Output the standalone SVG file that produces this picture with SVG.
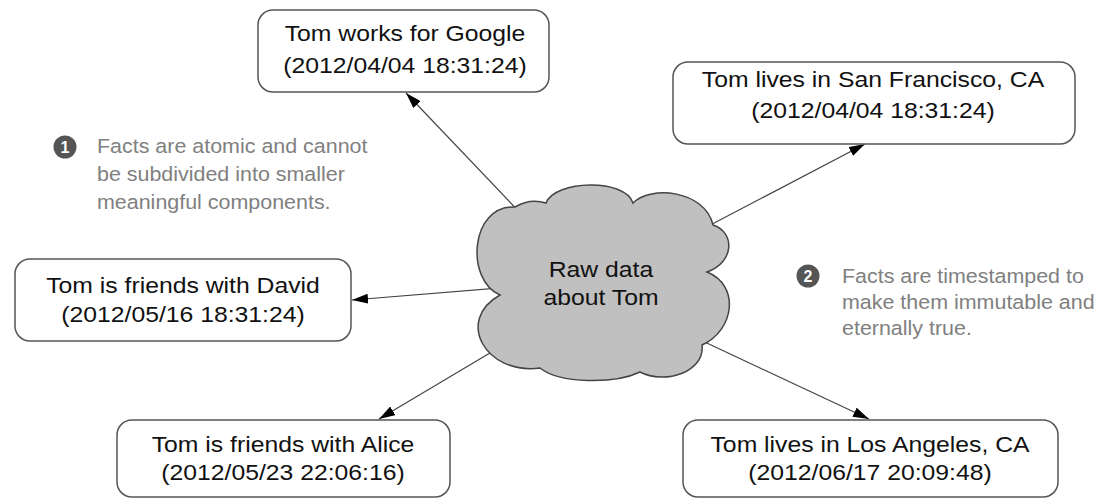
<svg xmlns="http://www.w3.org/2000/svg" width="1100" height="499" viewBox="0 0 1100 499">
<defs>
<style>
.box{fill:#fff;stroke:#555;stroke-width:1.5}
.lbl{font-family:"Liberation Sans",Arial,sans-serif;font-size:22.5px;fill:#111;text-anchor:middle}
.note{font-family:"Liberation Sans",Arial,sans-serif;font-size:19.5px;fill:#808080}
.badge{fill:#555}
.num{font-family:"Liberation Sans",Arial,sans-serif;font-size:16px;font-weight:bold;fill:#fff;text-anchor:middle}
.edge{stroke:#444;stroke-width:1.2;fill:none;marker-end:url(#arr)}
</style>
<marker id="arr" viewBox="0 0 16 10" refX="16" refY="5" markerWidth="16" markerHeight="10" markerUnits="userSpaceOnUse" orient="auto">
<path d="M0,0 L16,5 L0,10 z" fill="#000"/>
</marker>
</defs>
<rect width="1100" height="499" fill="#fff"/>
<g id="connectors">
<line class="edge" x1="525" y1="218" x2="406" y2="93"/>
<line class="edge" x1="697" y1="232" x2="865" y2="144"/>
<line class="edge" x1="512" y1="287" x2="352" y2="300"/>
<line class="edge" x1="505" y1="344" x2="379" y2="419"/>
<line class="edge" x1="694" y1="337" x2="869" y2="419"/>
</g>
<g id="cloud">
<path d="M515,207 Q530,198 546,203 C555,180 625,178 633,203 C650,185 705,190 713,225 C735,232 735,262 707,272 C740,285 735,330 702,345 C705,372 665,385 640,372 C615,384 560,384 540,368 C485,375 455,320 500,295 C465,280 470,205 515,207 Z" fill="#c0c0c0" stroke="#444" stroke-width="1.5"/>
<text class="lbl" transform="translate(601,0) scale(1.1,1)" x="0" y="277">Raw data</text>
<text class="lbl" transform="translate(601,0) scale(1.1,1)" x="0" y="305">about Tom</text>
</g>
<g id="google">
<rect class="box" x="258" y="10" width="291" height="82" rx="15"/>
<text class="lbl" transform="translate(405,0) scale(1.1,1)" x="0" y="41">Tom works for Google</text>
<text class="lbl" transform="translate(405,0) scale(1.1,1)" x="0" y="73">(2012/04/04 18:31:24)</text>
</g>
<g id="sf">
<rect class="box" x="673" y="62" width="402" height="82" rx="15"/>
<text class="lbl" transform="translate(873,0) scale(1.1,1)" x="0" y="87">Tom lives in San Francisco, CA</text>
<text class="lbl" transform="translate(873,0) scale(1.1,1)" x="0" y="118">(2012/04/04 18:31:24)</text>
</g>
<g id="david">
<rect class="box" x="15" y="259" width="336" height="82" rx="15"/>
<text class="lbl" transform="translate(183,0) scale(1.1,1)" x="0" y="293">Tom is friends with David</text>
<text class="lbl" transform="translate(183,0) scale(1.1,1)" x="0" y="322">(2012/05/16 18:31:24)</text>
</g>
<g id="alice">
<rect class="box" x="117" y="420" width="333" height="77" rx="15"/>
<text class="lbl" transform="translate(283,0) scale(1.1,1)" x="0" y="452">Tom is friends with Alice</text>
<text class="lbl" transform="translate(283,0) scale(1.1,1)" x="0" y="480">(2012/05/23 22:06:16)</text>
</g>
<g id="la">
<rect class="box" x="683" y="420" width="375" height="77" rx="15"/>
<text class="lbl" transform="translate(870,0) scale(1.1,1)" x="0" y="452">Tom lives in Los Angeles, CA</text>
<text class="lbl" transform="translate(870,0) scale(1.1,1)" x="0" y="480">(2012/06/17 20:09:48)</text>
</g>
<g id="note1">
<circle class="badge" cx="65" cy="147" r="11.5"/>
<text class="num" x="65" y="153">1</text>
<text class="note" transform="translate(97,0) scale(1.1,1)" x="0" y="153">Facts are atomic and cannot</text>
<text class="note" transform="translate(97,0) scale(1.1,1)" x="0" y="181">be subdivided into smaller</text>
<text class="note" transform="translate(97,0) scale(1.1,1)" x="0" y="209">meaningful components.</text>
</g>
<g id="note2">
<circle class="badge" cx="808" cy="276" r="11.5"/>
<text class="num" x="808" y="282">2</text>
<text class="note" transform="translate(842,0) scale(1.1,1)" x="0" y="283">Facts are timestamped to</text>
<text class="note" transform="translate(842,0) scale(1.1,1)" x="0" y="309">make them immutable and</text>
<text class="note" transform="translate(842,0) scale(1.1,1)" x="0" y="335">eternally true.</text>
</g>
</svg>
